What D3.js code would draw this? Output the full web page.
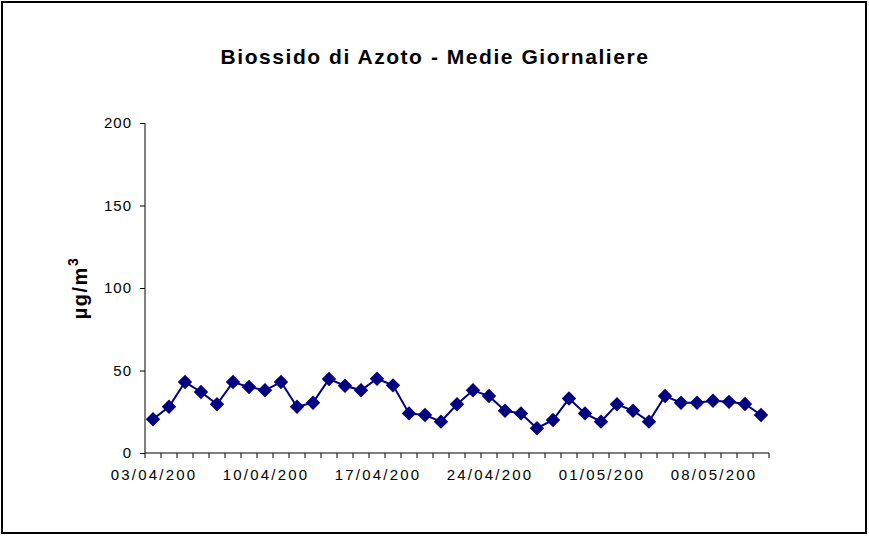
<!DOCTYPE html>
<html><head><meta charset="utf-8">
<script src="https://cdn.jsdelivr.net/npm/d3@7"></script>
<style>
body{margin:0;background:#fff;}
svg{display:block;font-family:Arial,"Liberation Sans",sans-serif;}
</style></head>
<body><svg id="c" width="869" height="536"></svg>
<script>
const dates = ["03/04/2000","04/04/2000","05/04/2000","06/04/2000","07/04/2000","08/04/2000","09/04/2000",
"10/04/2000","11/04/2000","12/04/2000","13/04/2000","14/04/2000","15/04/2000","16/04/2000",
"17/04/2000","18/04/2000","19/04/2000","20/04/2000","21/04/2000","22/04/2000","23/04/2000",
"24/04/2000","25/04/2000","26/04/2000","27/04/2000","28/04/2000","29/04/2000","30/04/2000",
"01/05/2000","02/05/2000","03/05/2000","04/05/2000","05/05/2000","06/05/2000","07/05/2000",
"08/05/2000","09/05/2000","10/05/2000","11/05/2000"];
const no2 = [20.5,28,43,37,29.5,43,40,38,43,28,30.5,44.8,40.8,38,45,41,
24,23,19,29.5,38,34.5,25.6,24,15,20,33,24,19,29.5,25.6,19,34.5,30.5,30.5,31.7,31,29.7,23];
const yTicks = [0,50,100,150,200];
const labelDates = ["03/04/2000","10/04/2000","17/04/2000","24/04/2000","01/05/2000","08/05/2000"];

const svg = d3.select("#c");
svg.append("rect").attr("x",2).attr("y",2).attr("width",864).attr("height",531)
  .attr("fill","#fff").attr("stroke","#000").attr("stroke-width",2);

const L=145, R=769, T=123, B=453;
const x = d3.scaleBand().domain(dates).range([L,R]);
const y = d3.scaleLinear().domain([0,200]).range([B,T]);

svg.append("text").attr("x",435).attr("y",64).attr("text-anchor","middle")
  .attr("font-size",21).attr("font-weight","bold").attr("letter-spacing",1.55)
  .text("Biossido di Azoto - Medie Giornaliere");

// y axis
const ya = svg.append("g").attr("transform",`translate(${L},0)`)
  .call(d3.axisLeft(y).tickValues(yTicks).tickSize(5).tickPadding(8));
ya.select(".domain").attr("stroke","#000").attr("d",`M0,${T}V${B}`);
ya.selectAll("line").attr("stroke","#000");
ya.selectAll("text").attr("font-size",15).attr("letter-spacing",1).attr("font-family","Arial,'Liberation Sans',sans-serif").attr("fill","#000");

// x axis
const xa = svg.append("g").attr("transform",`translate(0,${B})`);
xa.append("line").attr("x1",L).attr("x2",R).attr("y1",0).attr("y2",0).attr("stroke","#000");
const edges = dates.map(d=>x(d)).concat([R]);
xa.selectAll("line.t").data(edges).join("line").attr("class","t")
  .attr("x1",d=>d).attr("x2",d=>d).attr("y1",0).attr("y2",5).attr("stroke","#000");
xa.selectAll("text").data(labelDates).join("text")
  .attr("x",d=>x(d)+x.bandwidth()/2+1).attr("y",27).attr("text-anchor","middle")
  .attr("font-size",15).attr("letter-spacing",2.2).attr("fill","#000").text(d=>d.slice(0,9));

// y label
svg.append("text").attr("transform","translate(87,288) rotate(-90)").attr("text-anchor","middle")
  .attr("font-size",20).attr("font-weight","bold").attr("letter-spacing",1.5)
  .html('µg/m<tspan dy="-9" font-size="14">3</tspan>');

const cx = d=>x(d)+x.bandwidth()/2;
const line = d3.line().x((v,i)=>cx(dates[i])).y(v=>y(v));
svg.append("path").attr("d",line(no2)).attr("fill","none").attr("stroke","#000080").attr("stroke-width",2);
svg.selectAll("path.m").data(no2).join("path").attr("class","m")
  .attr("d",d3.symbol(d3.symbolSquare,104)())
  .attr("transform",(v,i)=>`translate(${cx(dates[i])},${y(v)}) rotate(45)`)
  .attr("fill","#000080");
</script></body></html>
